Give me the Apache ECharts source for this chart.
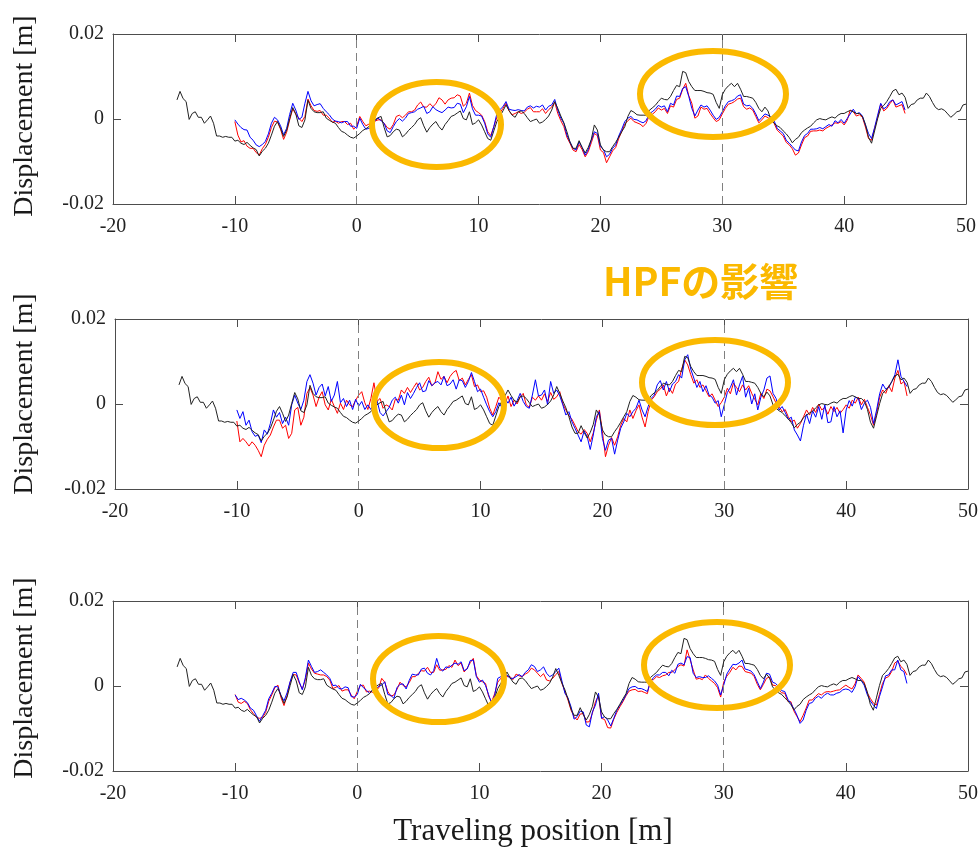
<!DOCTYPE html>
<html><head><meta charset="utf-8">
<script src="https://cdn.jsdelivr.net/npm/echarts@6/dist/echarts.min.js"></script>
<style>html,body{margin:0;padding:0;background:#fff}#c{width:979px;height:854px}</style>
</head><body><div id="c"></div>
<script>
// ---- axis ranges / tick labels ----
const xRange = [-20, 50], xTickStep = 10;
const yRange = [-0.02, 0.02], yTickStep = 0.02;
const guideLines = [0, 30];           // dashed vertical markers [m]

// ---- black reference trace (same in all panels), x from -14.75 step 0.25 ----
const blackStart = -14.75, blackStep = 0.25;
const black = [0.0045,0.0065,0.0048,0.0041,-0.0001,0.0013,0.0017,0.0004,0.0004,-0.001,
-0.0002,0.0007,-0.001,-0.004,-0.004,-0.0043,-0.0041,-0.0043,-0.0043,-0.0052,
-0.005,-0.0057,-0.006,-0.0055,-0.0062,-0.0068,-0.0072,-0.0087,-0.0076,-0.0069,
-0.0057,-0.0038,-0.0017,-0.0006,-0.0022,-0.0041,-0.0026,0.0001,0.0027,0.0012,
-0.0016,-0.002,-0.0002,0.0044,0.0025,0.0017,0.0015,0.0015,0.0017,0.0002,
-0.0003,-0.0007,-0.001,-0.002,-0.0029,-0.0032,-0.0038,-0.0043,-0.0045,-0.004,
-0.0034,-0.0027,-0.0023,-0.0018,-0.0009,-0.0002,0.0003,0.0006,-0.002,-0.0042,
-0.0039,-0.003,-0.0024,-0.0026,-0.0042,-0.0036,-0.0027,-0.002,-0.0013,-0.0002,
0.0003,-0.0016,-0.0031,-0.002,-0.0012,-0.0006,-0.0018,-0.0026,-0.0013,-0.0004,
0.0006,0.0009,0.0014,0.0019,0.0001,-0.0002,0.0017,-0.0013,-0.0009,-0.0002,
-0.0014,-0.003,-0.0046,-0.005,-0.0028,-0.0006,0.0006,0.0019,0.0033,0.002,
0.0009,0.0004,0.0017,0.0019,0.0013,0.0003,-0.0006,-0.0003,0,
-0.001,-0.0007,-0.0001,0.0007,0.0021,0.0041,0.0025,0.0007,-0.0009,-0.003,
-0.0054,-0.0069,-0.0069,-0.0051,-0.0067,-0.008,-0.0067,-0.0048,-0.0014,-0.0026,
-0.0061,-0.0073,-0.0077,-0.0077,-0.0065,-0.0055,-0.0043,-0.003,-0.0018,0.0006,
0.002,0.0016,0.001,0.0009,0.0009,0.0009,0.002,0.0026,0.0032,0.0041,
0.0049,0.0046,0.0045,0.0053,0.0067,0.0079,0.0076,0.0112,0.0109,0.0088,
0.0076,0.0067,0.0067,0.0067,0.0065,0.0062,0.0061,0.0058,0.0039,0.0025,
0.0057,0.007,0.0078,0.0084,0.0076,0.0084,0.007,0.0053,0.0053,0.0051,
0.0049,0.0039,0.0025,0.0017,0.0028,0.0019,-0.0002,-0.001,-0.0016,-0.002,
-0.0028,-0.0035,-0.0044,-0.0056,-0.0048,-0.0043,-0.0032,-0.0026,-0.0021,-0.0017,
-0.0009,-0.0002,0.0001,-0.0001,-0.0002,0.0002,0.0005,0.0002,0.0009,0.0013,
0.0013,0.0017,0.002,0.0017,0.0013,0.0013,0.0006,-0.0013,-0.0043,-0.0057,
-0.0028,0.0001,0.0025,0.0032,0.0041,0.0053,0.0066,0.007,0.0057,0.0061,
0.0051,0.0025,0.0034,0.0036,0.0045,0.0049,0.0049,0.0061,0.0053,0.0039,
0.0027,0.0022,0.0024,0.002,0.0012,0.0004,0.001,0.0017,0.0019,0.0033,
0.0035];

// ---- panel 1 (x from -10 step 0.25) ----
const p1Start = -10, p1Step = 0.25;
const p1Red = [-0.0006,-0.0038,-0.0054,-0.0051,-0.0064,-0.0069,-0.0069,-0.0079,-0.0085,-0.007,
-0.006,-0.0043,-0.002,-0.0005,-0.0007,-0.0024,-0.0048,-0.0031,-0.0002,0.0024,
0.0011,0.0002,-0.0006,0.0006,0.0047,0.0031,0.002,0.0018,0.002,0.0009,
0.0009,0.0002,-0.0008,-0.0005,-0.001,-0.0006,-0.0006,-0.0013,-0.001,-0.0024,
-0.0017,0.0006,-0.0006,-0.0016,-0.0012,-0.0005,-0.0005,-0.0002,-0.0002,-0.001,
-0.002,-0.0024,-0.0013,0.0006,0.0009,0.0003,0.0009,0.0017,0.0017,0.0021,
0.0033,0.004,0.0028,0.0028,0.0036,0.0029,0.0036,0.005,0.0045,0.0035,
0.0045,0.0049,0.005,0.0057,0.0054,0.003,0.0037,0.0061,0.0032,0.002,
0.0015,0.0009,-0.0006,-0.003,-0.0039,-0.0018,0.0004,0.0014,0.0025,0.0037,
0.0019,0.001,0.0013,0.0017,0.0013,0.0016,0.0023,0.0027,0.0017,0.0017,
0.0017,0.0024,0.0013,0.0022,0.0028,0.004,0.0013,-0.0004,-0.0018,-0.0043,
-0.0057,-0.0073,-0.0077,-0.006,-0.0072,-0.0089,-0.0077,-0.0056,-0.0034,-0.0039,
-0.0073,-0.0079,-0.0103,-0.0089,-0.0075,-0.0067,-0.0046,-0.0029,-0.0012,-0.0004,
0.0002,-0.0006,-0.0009,-0.0012,-0.0018,-0.001,0.0007,0.0011,0.0017,0.0026,
0.0021,0.0025,0.0013,0.0031,0.0028,0.0046,0.0049,0.007,0.0084,0.0055,
0.0037,0.0002,0.0007,0.0028,0.0023,0.0025,0.0013,0.0003,-0.0006,-0.0002,
0.0012,0.0025,0.0035,0.0037,0.0041,0.0047,0.0049,0.0029,0.0023,0.0026,
0.0021,0.0006,-0.0009,-0.0002,0.0007,0.0003,-0.0002,-0.001,-0.0026,-0.0033,
-0.004,-0.0055,-0.0061,-0.007,-0.0085,-0.008,-0.0061,-0.0044,-0.004,-0.0029,
-0.0028,-0.0028,-0.0026,-0.0028,-0.0022,-0.0018,-0.0014,-0.0009,-0.001,-0.0006,
-0.0014,-0.0003,0.0021,0.0017,0.0007,0.001,0.0004,-0.0019,-0.0046,-0.005,
-0.0022,0.0004,0.0035,0.0019,0.0025,0.0036,0.0045,0.0028,0.0031,0.0034,
0.0013];
const p1Blue = [-0.0002,-0.0012,-0.002,-0.0025,-0.0026,-0.0043,-0.005,-0.0061,-0.0065,-0.006,
-0.0053,-0.0035,-0.001,0.0004,-0.0002,-0.0016,-0.0037,-0.0022,0.0011,0.0037,
0.0021,-0.0001,0.0004,0.0037,0.0065,0.0043,0.0031,0.0034,0.0036,0.0025,
0.0017,0.001,0,-0.0005,-0.0006,-0.0009,-0.0006,-0.0006,-0.0017,-0.0017,
-0.0022,0.0002,-0.0013,-0.0024,-0.0022,-0.0019,-0.0004,0.0002,-0.0004,-0.001,
-0.0028,-0.0032,-0.0018,-0.0006,0.0001,-0.0005,0.0002,0.0013,0.0015,0.0017,
0.0023,0.0026,0.003,0.0013,0.0017,0.0029,0.0022,0.0018,0.0015,0.0021,
0.0028,0.0026,0.0027,0.0037,0.0035,0.0015,0.0029,0.0053,0.0024,0.0009,
0.0009,0.0007,-0.001,-0.0035,-0.0043,-0.0018,0.0012,0.0022,0.0029,0.0041,
0.0023,0.0021,0.002,0.0022,0.002,0.0019,0.0028,0.0031,0.0026,0.003,
0.0028,0.0033,0.0021,0.003,0.0033,0.0046,0.0021,0.0002,-0.001,-0.0038,
-0.0054,-0.0069,-0.0073,-0.0054,-0.0067,-0.0085,-0.0072,-0.005,-0.003,-0.0034,
-0.0065,-0.0072,-0.0089,-0.0083,-0.0069,-0.0061,-0.004,-0.0024,-0.0006,0.0002,
0.0006,-0.0001,-0.0002,-0.0006,-0.0009,-0.0004,0.0012,0.0017,0.0023,0.0032,
0.0028,0.0031,0.0017,0.0037,0.0033,0.0054,0.0053,0.0072,0.0076,0.0053,
0.0025,0.0007,0.0021,0.0033,0.0028,0.0031,0.0021,0.0009,-0.0001,0.0004,
0.0017,0.0031,0.0041,0.0043,0.0046,0.0054,0.0057,0.0035,0.0031,0.0032,
0.0025,0.0012,-0.0004,0.0004,0.0012,0.0009,0.0004,-0.0004,-0.0022,-0.0028,
-0.0034,-0.005,-0.0057,-0.0065,-0.0073,-0.0075,-0.0054,-0.0039,-0.0034,-0.0024,
-0.0024,-0.0023,-0.002,-0.0023,-0.0018,-0.0013,-0.0017,-0.0004,-0.0009,-0.0001,
-0.001,0.0001,0.0012,0.0023,0.0012,0.0015,0.0007,-0.0014,-0.0034,-0.0046,
-0.002,0.0009,0.0037,0.0024,0.0029,0.0041,0.0045,0.0033,0.0037,0.0041,
0.0021];

// ---- panel 2 (x from -10 step 0.25) ----
const p2Start = -10, p2Step = 0.25;
const p2Red = [-0.004,-0.0089,-0.0081,-0.0089,-0.0099,-0.0089,-0.0097,-0.0109,-0.0124,-0.0097,
-0.0083,-0.0073,-0.0054,-0.0038,-0.0038,-0.0057,-0.005,-0.0081,-0.0069,-0.0014,
-0.0008,-0.005,-0.0031,0.0025,0.0039,0.0021,-0.0006,0.0016,0.0029,-0.0002,
-0.0014,0.0011,-0.0006,-0.0022,0.0002,-0.0013,0.0009,-0.0002,-0.0006,0.0009,
0.0021,0.0029,0.0003,-0.0013,0.0013,0.005,0.0006,0.0013,-0.001,-0.0002,
-0.0006,-0.0014,0.0011,0.0009,0.0033,0.0025,0.0039,0.0027,0.0039,0.005,
0.0033,0.0039,0.0053,0.0063,0.0043,0.0049,0.0076,0.0058,0.0065,0.005,
0.0065,0.0074,0.0079,0.0055,0.0061,0.0045,0.0058,0.0069,0.0041,0.0045,
0.0029,0.0031,0.0016,-0.001,-0.0026,-0.0006,0.0016,0.0008,0,0.0019,
-0.0006,0.0009,0,0.0017,0.0025,-0.0002,-0.0008,0.0016,0.0009,0.0019,
0.0009,0.0024,0.0006,0.0027,0.0011,0.0017,0.0029,0,-0.0014,-0.0028,
-0.0036,-0.005,-0.0065,-0.0071,-0.006,-0.0069,-0.0089,-0.0068,-0.0038,-0.0014,
-0.0065,-0.0124,-0.0097,-0.0079,-0.0097,-0.0077,-0.005,-0.0034,-0.0042,-0.0014,
-0.0034,-0.0016,-0.0002,-0.0031,-0.0054,-0.0018,0.0009,0.0017,0.0029,0.0035,
0.0045,0.0019,0.0037,0.0025,0.0047,0.0053,0.0082,0.0104,0.0092,0.0069,
0.0049,0.0057,0.0039,0.0045,0.0031,0.0017,0.0024,0.0009,-0.0006,0.0003,
0.0016,0.0037,0.0024,0.0049,0.0039,0.0029,0.0045,0.0033,0.0043,0.0025,
0.0011,-0.0002,0.0025,0.0013,0.0035,0.0031,0.0017,0.0002,-0.0006,-0.0018,
-0.0013,-0.003,-0.0042,-0.0038,-0.0057,-0.0046,-0.003,-0.0014,-0.0026,-0.0008,
-0.002,0,-0.0014,-0.0008,-0.0024,-0.0006,-0.0018,-0.0008,-0.0022,-0.0013,
-0.0002,-0.001,0.0009,0.0002,0.0016,-0.0002,0.0011,-0.0008,-0.0026,-0.005,
-0.0022,0.0016,0.0033,0.0025,0.0043,0.0029,0.0061,0.0079,0.0047,0.0053,
0.0019];
const p2Blue = [-0.0014,-0.0034,-0.0018,-0.005,-0.0038,-0.0065,-0.0076,-0.0073,-0.0091,-0.0061,
-0.0071,-0.0046,-0.0014,-0.0031,-0.002,-0.0046,-0.0031,-0.005,-0.0002,0.0021,
0.0002,-0.0013,0.0009,0.0053,0.0069,0.0049,0.0021,0.0039,0.0047,0.0019,
0.0041,0.0006,0.0021,0.0053,0.0003,0.0013,-0.0006,0.0009,-0.0013,0.0011,
-0.0005,0.0006,-0.0013,-0.0002,-0.0013,0.0003,0.0008,-0.002,-0.0028,-0.0018,
-0.0008,0.0009,0.0016,0.0002,0.0021,-0.0002,0.0027,0.0013,0.0025,0.0039,
0.005,0.0029,0.0031,0.0055,0.0043,0.005,0.0053,0.0045,0.0065,0.0043,
0.0047,0.0057,0.0035,0.0057,0.0055,0.0039,0.0053,0.0074,0.0053,0.0029,
0.0035,0.0016,-0.0002,-0.0018,-0.003,-0.0018,0.0003,-0.0008,0.0013,0.0002,
0.0016,-0.0005,0.0008,0.0025,0.0006,-0.0006,-0.001,0.0021,0.0057,0.0019,
0.0021,0.0033,-0.0002,0.0053,0.0025,0.0033,0.0019,-0.0002,-0.0026,-0.0018,
-0.0042,-0.0057,-0.0073,-0.0089,-0.0063,-0.0077,-0.0107,-0.0073,-0.003,-0.0018,
-0.0081,-0.0109,-0.0085,-0.0081,-0.0118,-0.0085,-0.0057,-0.0042,-0.0022,-0.003,
-0.0018,-0.001,0.0009,-0.0014,-0.003,-0.0006,0.0013,0.0021,0.0045,0.0055,
0.0033,0.0053,0.0029,0.0047,0.0053,0.0069,0.0061,0.0104,0.0116,0.0082,
0.0061,0.0039,0.0053,0.0029,0.0043,0.0021,0.0016,0.0002,0.0008,-0.003,
-0.0002,0.0027,0.0039,0.0057,0.0021,0.0045,0.0065,0.0016,0.0037,0,
0.0024,-0.0014,0.0016,0.0033,0.0061,0.0066,0.0025,0.0013,-0.0014,-0.0006,
-0.002,-0.0036,-0.0031,-0.0061,-0.0073,-0.0087,-0.005,-0.0024,-0.0046,-0.0016,
-0.0031,-0.0006,-0.0036,-0.0002,-0.0044,-0.0042,-0.0006,-0.003,-0.0016,-0.0068,
-0.0014,0.0008,-0.0005,0.0016,0.0013,-0.0013,0.0002,0.0009,-0.0008,-0.0046,
-0.0014,0.0024,0.0047,0.0035,0.0039,0.0053,0.0069,0.0104,0.0065,0.0053,
0.0041];

// ---- panel 3 (x from -10 step 0.25) ----
const p3Start = -10, p3Step = 0.25;
const p3Red = [-0.002,-0.0038,-0.0041,-0.0036,-0.0041,-0.0056,-0.0065,-0.0074,-0.0076,-0.0074,
-0.0062,-0.0036,-0.0021,-0.0004,0.0002,-0.0027,-0.0046,-0.0023,0.0009,0.0027,
0.0026,0.0007,-0.0007,0.0015,0.0054,0.004,0.003,0.0028,0.0026,0.0026,
0.0022,0.0014,-0.0006,-0.0003,0.0001,-0.0012,-0.0009,-0.0009,-0.0021,-0.003,
-0.0013,0.0001,0.0002,-0.0014,-0.0012,-0.0015,-0.0009,-0.0005,0.0018,0.0009,
-0.0013,-0.0024,-0.0021,-0.0008,0.0009,0.0001,-0.0002,0.0008,0.0022,0.0022,
0.003,0.0036,0.0035,0.0044,0.0032,0.0032,0.005,0.0037,0.0038,0.0039,
0.0048,0.0044,0.0061,0.0048,0.0054,0.0033,0.0042,0.0055,0.0065,0.0024,
0.0014,0.001,0.0006,-0.0024,-0.0037,-0.0018,0.0009,0.0018,0.0028,0.0022,
0.0022,0.0015,0.0028,0.0024,0.0022,0.0028,0.0032,0.0042,0.0038,0.003,
0.0022,0.0029,0.0014,0.0012,0.0018,0.0027,0.0034,0.0006,-0.0013,-0.0033,
-0.0057,-0.0072,-0.008,-0.0066,-0.0065,-0.0085,-0.0084,-0.0064,-0.0037,-0.0023,
-0.0076,-0.0079,-0.0098,-0.0099,-0.0078,-0.0062,-0.0049,-0.0037,-0.0023,-0.0012,
-0.0009,-0.0008,-0.0013,-0.0012,-0.0015,-0.0018,0.0014,0.0015,0.0022,0.002,
0.0024,0.0026,0.0032,0.0032,0.0038,0.0046,0.005,0.0047,0.0085,0.0062,
0.0038,0.0016,0.0018,0.0015,0.0026,0.0018,0.0012,0.0006,-0.0004,-0.0026,
0.0009,0.0023,0.0032,0.0044,0.0038,0.0047,0.0046,0.0034,0.0032,0.003,
0.0022,0.0004,-0.0009,0.0004,0.0018,0.0021,0.0002,0.0001,-0.0009,-0.0016,
-0.0017,-0.0036,-0.0037,-0.0059,-0.0072,-0.0084,-0.0069,-0.0052,-0.0033,-0.0033,
-0.0025,-0.0018,-0.0021,-0.0015,-0.0013,-0.0014,-0.0012,-0.001,-0.0009,-0.0003,
0.0002,-0.0003,-0.0007,0.0005,0.0026,0.0018,0.0009,-0.0016,-0.0029,-0.004,
-0.0045,-0.002,0.0006,0.0019,0.0022,0.0034,0.0054,0.0059,0.0046,0.0039,
0.0026];
const p3Blue = [-0.0021,-0.0032,-0.0029,-0.0033,-0.0039,-0.0052,-0.0057,-0.007,-0.0083,-0.007,
-0.0057,-0.003,-0.0017,-0.0001,-0.0002,-0.0022,-0.0035,-0.0016,0.001,0.0032,
0.0032,0.001,-0.0009,0.002,0.0061,0.0046,0.0032,0.0034,0.0038,0.0032,
0.0026,0.0018,0.0001,0.0002,-0.0006,-0.0007,-0.0002,-0.0004,-0.0025,-0.0026,
-0.002,0.0004,-0.0004,-0.001,-0.0017,-0.001,-0.0007,-0.0001,0.0002,0.001,
-0.002,-0.0022,-0.0029,-0.0004,0.0004,0.0005,-0.0007,0.0013,0.0028,0.0026,
0.0026,0.004,0.0042,0.003,0.0026,0.0036,0.0065,0.0042,0.0035,0.0045,
0.0043,0.0049,0.0054,0.0051,0.0057,0.0036,0.004,0.006,0.0061,0.0022,
0.0009,0.0014,0.0001,-0.002,-0.0041,-0.0022,0.0018,0.0022,0.0024,0.0026,
0.0018,0.0018,0.0022,0.0027,0.0022,0.0032,0.0038,0.005,0.0046,0.0034,
0.0038,0.0045,0.003,0.0022,0.0026,0.0034,0.0042,0.0012,-0.0017,-0.0028,
-0.0049,-0.0078,-0.0072,-0.0059,-0.0061,-0.0092,-0.0096,-0.0061,-0.0045,-0.0017,
-0.0076,-0.0072,-0.008,-0.0094,-0.0076,-0.0057,-0.0045,-0.0034,-0.0021,-0.0006,
-0.0002,-0.0001,-0.0006,-0.0006,-0.0009,-0.0013,0.0009,0.002,0.0026,0.0026,
0.0032,0.0032,0.0024,0.0037,0.003,0.0051,0.0054,0.005,0.0069,0.0067,
0.003,0.002,0.0022,0.002,0.002,0.0024,0.0018,0.0012,0.0002,-0.0021,
0.0002,0.0028,0.004,0.0051,0.005,0.0054,0.0061,0.004,0.0038,0.0035,
0.0026,0.001,-0.0006,0.0009,0.003,0.0028,0.0009,0.0006,-0.0002,-0.0011,
-0.0013,-0.0031,-0.0041,-0.0054,-0.0069,-0.0088,-0.008,-0.0057,-0.0041,-0.0039,
-0.0029,-0.0024,-0.0029,-0.0021,-0.0017,-0.0021,-0.0021,-0.0017,-0.0015,-0.0009,
-0.0007,-0.0009,-0.0015,-0.0002,0.0022,0.0013,0.0002,-0.002,-0.0035,-0.0045,
-0.0053,-0.0025,-0.0002,0.0024,0.0026,0.0038,0.0038,0.0061,0.0038,0.0034,
0.0006];

// ---- text ----
const yTitle = 'Displacement [m]';
const xTitle = 'Traveling position [m]';
const noteText = 'HPFの影響';

// ---------------- build chart ----------------
const panels = [
  {red: p1Red, blue: p1Blue, start: p1Start, step: p1Step},
  {red: p2Red, blue: p2Blue, start: p2Start, step: p2Step},
  {red: p3Red, blue: p3Blue, start: p3Start, step: p3Step}
];
const gridBoxes = [
  {left: 113, top: 34, width: 853, height: 170},
  {left: 115, top: 319, width: 853, height: 170},
  {left: 113, top: 601, width: 855, height: 170}
];
const axisColor = '#4d4d4d';
const serif = '"Liberation Serif", "Times New Roman", serif';
const orange = '#FBB900';

function pairs(start, step, vals) {
  return vals.map((v, i) => [Math.round((start + i * step) * 100) / 100, v]);
}

const grid = [], xAxis = [], yAxis = [], series = [];
gridBoxes.forEach((g, i) => {
  grid.push(Object.assign({show: false, outerBoundsMode: 'none', containLabel: false}, g));
  const tick = {show: true, inside: true, length: 8, lineStyle: {color: axisColor, width: 1}};
  const line = {show: true, onZero: false, lineStyle: {color: axisColor, width: 1}};
  ['bottom', 'top'].forEach(pos => xAxis.push({
    type: 'value', gridIndex: i, position: pos, min: xRange[0], max: xRange[1], interval: xTickStep,
    axisLine: line, axisTick: tick, splitLine: {show: false},
    axisLabel: {show: pos === 'bottom', fontFamily: serif, fontSize: 20, color: '#222', margin: 13}
  }));
  ['left', 'right'].forEach(pos => yAxis.push({
    type: 'value', gridIndex: i, position: pos, min: yRange[0], max: yRange[1], interval: yTickStep,
    axisLine: line, axisTick: tick, splitLine: {show: false},
    axisLabel: {show: pos === 'left', fontFamily: serif, fontSize: 20, color: '#222', margin: 9}
  }));
  const p = panels[i];
  const common = {type: 'line', xAxisIndex: 2 * i, yAxisIndex: 2 * i, showSymbol: false, symbol: 'none',
    silent: true, animation: false, clip: true};
  series.push(Object.assign({}, common, {name: 'red' + i, data: pairs(p.start, p.step, p.red),
    lineStyle: {color: '#ff0000', width: 1}, z: 3}));
  series.push(Object.assign({}, common, {name: 'blue' + i, data: pairs(p.start, p.step, p.blue),
    lineStyle: {color: '#0000ff', width: 1}, z: 4}));
  series.push(Object.assign({}, common, {name: 'black' + i, data: pairs(blackStart, blackStep, black),
    lineStyle: {color: '#222222', width: 1}, z: 5,
    markLine: {silent: true, symbol: ['none', 'none'], label: {show: false}, animation: false,
      lineStyle: {color: '#808080', width: 1, type: [8, 5]},
      data: guideLines.map(v => ({xAxis: v}))}}));
});

const ellipses = [
  [436.5, 124.5, 64.5, 42.5], [713, 94, 73, 43],
  [439, 405, 65, 43], [715, 382.5, 73, 42.5],
  [438.5, 679, 65.5, 43], [717, 665, 73, 43]
];
const graphic = ellipses.map(e => ({
  type: 'ellipse', z: 100, silent: true,
  shape: {cx: e[0], cy: e[1], rx: e[2], ry: e[3]},
  style: {fill: 'none', stroke: orange, lineWidth: 6}
}));
[116, 394, 678].forEach(cy => graphic.push({
  type: 'text', x: 25, y: cy, rotation: Math.PI / 2, z: 100, silent: true,
  style: {text: yTitle, fontFamily: serif, fontSize: 28, fill: '#1a1a1a', align: 'center', verticalAlign: 'middle'}
}));
graphic.push({type: 'text', x: 533, y: 832, z: 100, silent: true,
  style: {text: xTitle, fontFamily: serif, fontSize: 31, fill: '#1a1a1a', align: 'center', verticalAlign: 'middle'}});
graphic.push({type: 'text', x: 603, y: 281, z: 100, silent: true,
  style: {text: noteText, fontFamily: '"Noto Sans CJK JP", "Noto Sans", sans-serif', fontWeight: 'bold',
    fontSize: 39, fill: orange, align: 'left', verticalAlign: 'middle'}});

const chart = echarts.init(document.getElementById('c'), null, {renderer: 'canvas'});
chart.setOption({animation: false, backgroundColor: '#ffffff', grid, xAxis, yAxis, series, graphic});
</script>
</body></html>
